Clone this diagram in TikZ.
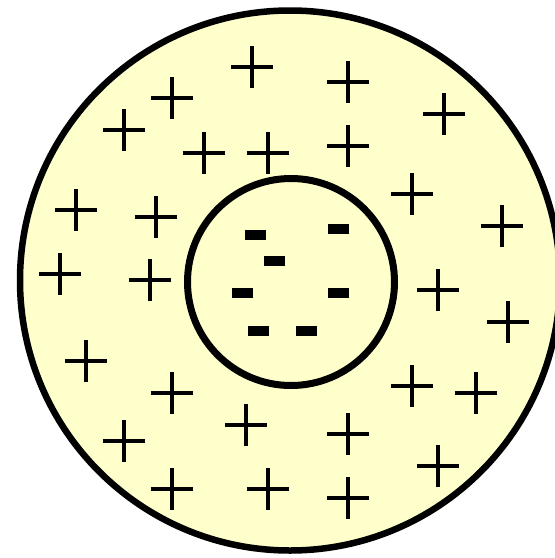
\documentclass[tikz,border=0pt]{standalone}
\definecolor{cellfill}{HTML}{FFFFCC}
\begin{document}
\begin{tikzpicture}[x=1pt,y=-1pt,
  shell/.style={line width=6.5pt, draw=black, fill=cellfill},
  core/.style={line width=7pt, draw=black},
  plusarm/.style={line width=3.5pt, draw=black},
  minusbar/.style={fill=black}]
\useasboundingbox (0,0) rectangle (555,558);
\begin{scope}
\clip (0,0) rectangle (555,558);
\draw[shell] (290,280.5) circle (270pt);
\end{scope}
\draw[core] (291,282) circle (103.5pt);
\foreach \px/\py in {252/67,172/98,124/130,204/153,268/153,76/210,156/217,60/274,150/280,
  348/82,444/114,348/146,412/194,502/226,
  86/361,172/393,124/441,246/425,172/489,268/489,
  438/290,508/322,412/386,476/393,348/434,438/466,348/498}
  \draw[plusarm] (\px-21,\py) -- (\px+21,\py) (\px,\py-21) -- (\px,\py+21);
\foreach \mx/\my in {255.5/235,338.5/229,274.5/261,242.5/293,338.5/293,258.5/331,306.5/331}
  \fill[minusbar] (\mx-10.5,\my-5) rectangle (\mx+10.5,\my+5);
\end{tikzpicture}
\end{document}
